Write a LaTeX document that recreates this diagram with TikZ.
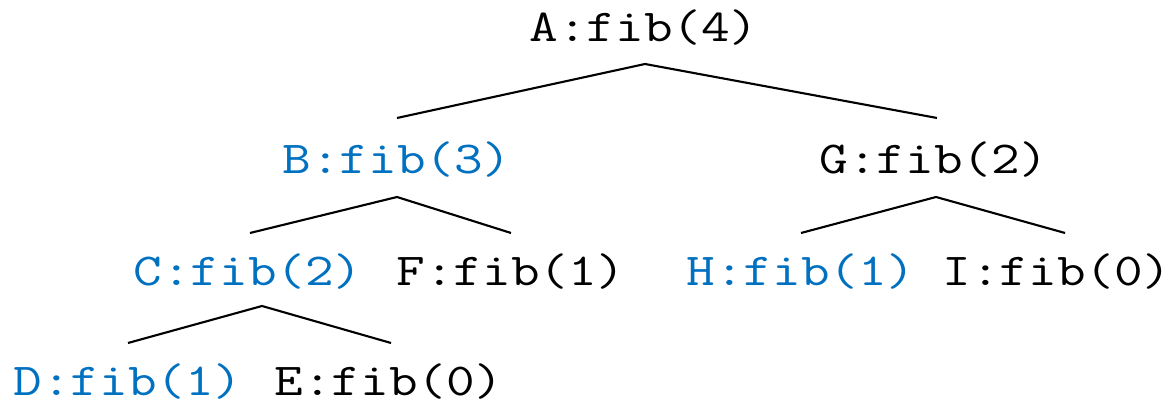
\documentclass[tikz,border=0pt]{standalone}
\usepackage{fontspec}
\setmonofont{Latin Modern Mono}[FakeStretch=1.217]
\usepackage{tikz}
\definecolor{callblue}{HTML}{0070C0}

\begin{document}
\begin{tikzpicture}[every node/.style={font=\ttfamily\fontsize{13pt}{15pt}\selectfont, inner sep=0pt}, calledge/.style={black, line width=0.6pt}, first/.style={text=callblue}]
	\useasboundingbox (0,0) rectangle (11.70,4.02);
	% call tree of fib(4)
	\node (A) at (6.44,3.74) {A:fib(4)};
	\node[first] (B) at (3.97,2.42) {B:fib(3)};
	\node (G) at (9.34,2.42) {G:fib(2)};
	\node[first] (C) at (2.48,1.30) {C:fib(2)};
	\node (F) at (5.11,1.30) {F:fib(1)};
	\node[first] (H) at (8.01,1.30) {H:fib(1)};
	\node (I) at (10.57,1.30) {I:fib(0)};
	\node[first] (D) at (1.28,0.20) {D:fib(1)};
	\node (E) at (3.89,0.20) {E:fib(0)};
	% edges: from just below a parent to just above its children
	\draw[calledge] ([shift={(0,0.42)}]B.center) -- ([shift={(0.01,-0.36)}]A.center) -- ([shift={(0.03,0.42)}]G.center);
	\draw[calledge] ([shift={(0.02,0.39)}]C.center) -- ([shift={(0,-0.37)}]B.center) -- ([shift={(0,0.39)}]F.center);
	\draw[calledge] ([shift={(0,0.39)}]H.center) -- ([shift={(0.02,-0.37)}]G.center) -- ([shift={(0.08,0.39)}]I.center);
	\draw[calledge] ([shift={(0,0.39)}]D.center) -- ([shift={(0.14,-0.34)}]C.center) -- ([shift={(0.02,0.39)}]E.center);
\end{tikzpicture}
\end{document}
